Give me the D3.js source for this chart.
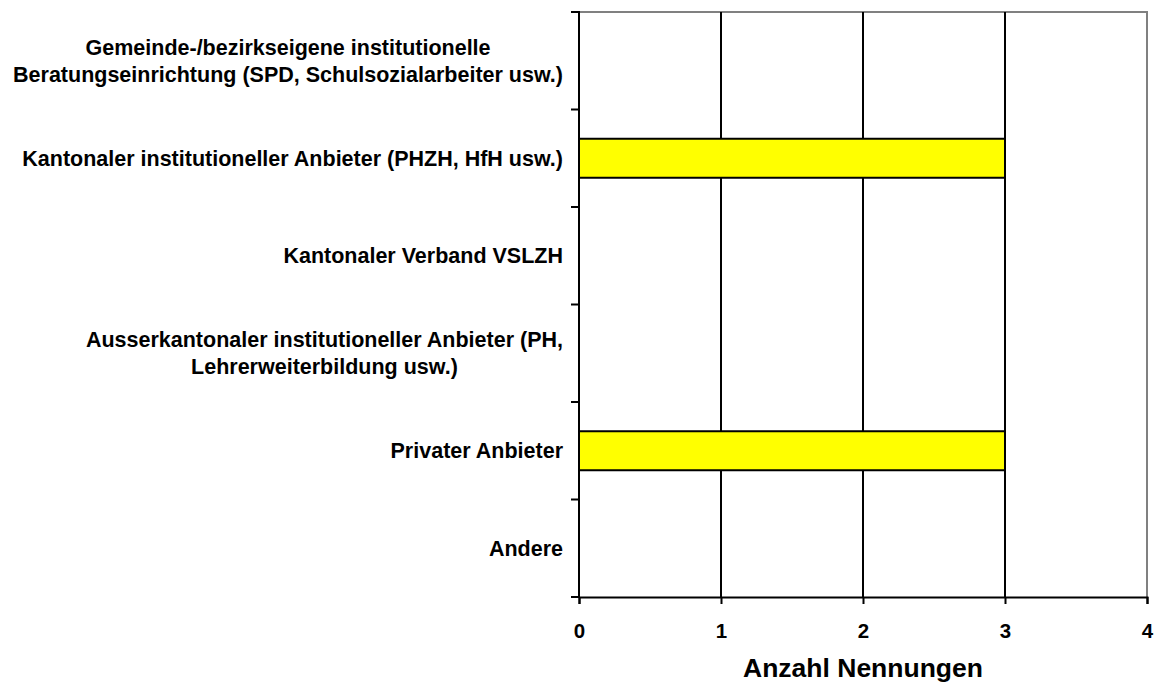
<!DOCTYPE html>
<html>
<head>
<meta charset="utf-8">
<script src="https://cdn.jsdelivr.net/npm/d3@7"></script>
<style>
  body { margin: 0; background: #fff; }
  text { font-family: "Liberation Sans", Arial, sans-serif; font-weight: bold; fill: #000; }
</style>
</head>
<body>
<div id="root"></div>
<script>
const categories = [
    ['Gemeinde-/bezirkseigene institutionelle', 'Beratungseinrichtung (SPD, Schulsozialarbeiter usw.)'],
    ['Kantonaler institutioneller Anbieter (PHZH, HfH usw.)'],
    ['Kantonaler Verband VSLZH'],
    ['Ausserkantonaler institutioneller Anbieter (PH,', 'Lehrerweiterbildung usw.)'],
    ['Privater Anbieter'],
    ['Andere']
];
const values = [0, 3, 0, 0, 3, 0];
const xTicks = [0, 1, 2, 3, 4];
const xTitle = 'Anzahl Nennungen';

const width = 1161;
const height = 688;
const mLeft = 579, mRight = 1147, mTop = 12, mBottom = 597;

const svg = d3.select('#root')
    .append('svg')
        .attr('width', width)
        .attr('height', height);

const x = d3.scaleLinear()
    .domain([0, 4])
    .range([mLeft, mRight]);

const y = d3.scaleBand()
    .domain(d3.range(categories.length))
    .range([mTop, mBottom])
    .paddingInner(0.6)
    .paddingOuter(0.3);

// outer band (for ticks between categories)
const yb = d3.scaleBand()
    .domain(d3.range(categories.length))
    .range([mTop, mBottom]);

// grey frame top / right
svg.append('path')
    .attr('d', `M${mLeft},${mTop}H${mRight}V${mBottom}`)
    .attr('fill', 'none')
    .attr('stroke', '#808080')
    .attr('stroke-width', 2);

// vertical gridlines
svg.selectAll('.grid')
    .data(xTicks.filter(t => t > 0 && t < 4))
    .enter()
    .append('line')
        .attr('x1', d => x(d))
        .attr('x2', d => x(d))
        .attr('y1', mTop)
        .attr('y2', mBottom)
        .attr('stroke', '#000')
        .attr('stroke-width', 2);

// bars
svg.selectAll('.bar')
    .data(values.map((v, i) => [i, v]).filter(([, v]) => v > 0))
    .enter()
    .append('rect')
        .attr('x', x(0))
        .attr('y', ([i]) => y(i))
        .attr('width', ([, v]) => x(v) - x(0))
        .attr('height', y.bandwidth())
        .attr('fill', '#ffff00')
        .attr('stroke', '#000')
        .attr('stroke-width', 2);

// bottom axis
const xAxis = svg.append('g')
    .attr('transform', `translate(0, ${mBottom})`)
    .call(d3.axisBottom(x).tickValues(xTicks).tickFormat(d3.format('d')).tickSize(7).tickPadding(19));
xAxis.select('.domain').attr('stroke', '#000').attr('stroke-width', 2);
xAxis.selectAll('.tick line').attr('stroke', '#000').attr('stroke-width', 2);
xAxis.selectAll('.tick text')
    .attr('font-size', 20.5)
    .attr('font-family', '"Liberation Sans", Arial, sans-serif')
    .attr('font-weight', 'bold');

// left axis: line and ticks at band edges
svg.append('line')
    .attr('x1', mLeft).attr('x2', mLeft)
    .attr('y1', mTop - 1).attr('y2', mBottom + 1)
    .attr('stroke', '#000').attr('stroke-width', 2);
const edges = d3.range(categories.length + 1).map(i => i < categories.length ? yb(i) : mBottom);
svg.selectAll('.ytick')
    .data(edges)
    .enter()
    .append('line')
        .attr('x1', mLeft - 8).attr('x2', mLeft)
        .attr('y1', d => d).attr('y2', d => d)
        .attr('stroke', '#000').attr('stroke-width', 2);

// category labels: block right aligned, lines centred within block
const labelRight = 563;
const lineH = 27;
categories.forEach((lines, i) => {
    const cy = yb(i) + yb.bandwidth() / 2;
    const g = svg.append('g');
    const texts = lines.map((s, k) => g.append('text')
        .attr('font-size', 21.5)
        .attr('text-anchor', 'middle')
        .attr('y', cy + (k - (lines.length - 1) / 2) * lineH)
        .attr('dy', '0.35em')
        .text(s));
    const maxW = d3.max(texts, t => t.node().getComputedTextLength());
    texts.forEach(t => t.attr('x', labelRight - maxW / 2));
});

// axis title
svg.append('text')
    .attr('x', x(2))
    .attr('y', 668)
    .attr('text-anchor', 'middle')
    .attr('dy', '0.35em')
    .attr('font-size', 26.5)
    .text(xTitle);
</script>
</body>
</html>
